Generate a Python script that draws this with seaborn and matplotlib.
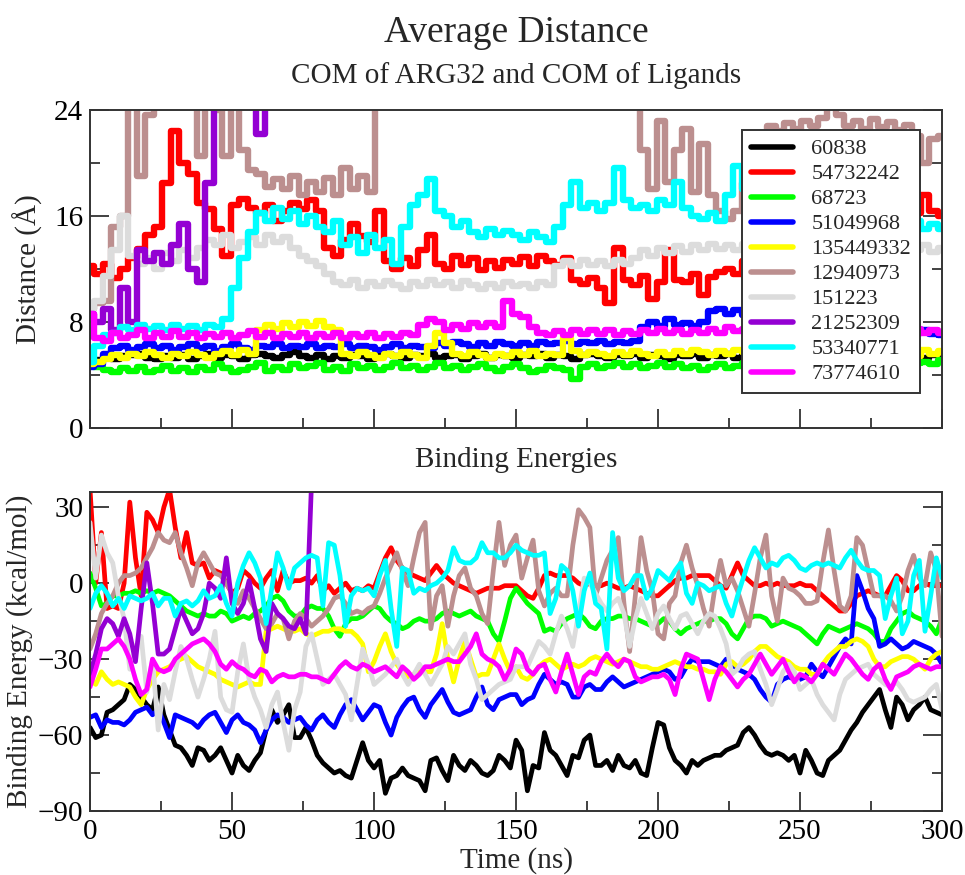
import numpy as np
import matplotlib
matplotlib.use("Agg")
import matplotlib.pyplot as plt
from matplotlib.ticker import MultipleLocator
import seaborn as sns

sns.set_style("ticks")
plt.rcParams['font.family'] = ['Liberation Serif', 'DejaVu Serif']

# ---------------- data ----------------
LIGANDS = ["60838", "54732242", "68723", "51049968", "135449332",
           "12940973", "151223", "21252309", "53340771", "73774610"]
COLORS = ["#000000", "#ff0000", "#00ff00", "#0000ff", "#ffff00",
          "#bc8f8f", "#dcdcdc", "#9400d3", "#00ffff", "#ff00ff"]

T_TOP = np.arange(0, 301, 3)          # ns
T_TOP_SHORT = np.arange(0, 79, 3)     # ns (21252309 only)
T_BOT = np.arange(0, 301, 2)          # ns
T_BOT_SHORT = np.arange(0, 79, 2)     # ns (21252309 only)

# Average distance (Å)
dist_60838 = [4.8,5.1,5.3,5.2,5.4,5.5,5.6,5.3,5.2,5.4,
              5.3,5.5,5.2,5.4,5.6,5.3,5.5,5.4,5.2,5.5,
              5.6,5.4,5.3,5.5,5.7,5.4,5.3,5.5,5.2,5.4,
              5.3,5.5,5.4,5.2,5.5,5.6,5.4,5.3,5.5,5.4,
              5.6,5.3,5.4,5.5,5.2,5.4,5.6,5.3,5.5,5.4,
              5.3,5.5,5.4,5.6,5.3,5.5,5.4,5.2,5.5,5.6,
              5.4,5.3,5.5,5.4,5.6,5.3,5.5,5.4,5.2,5.5,
              5.4,5.6,5.3,5.5,5.4,5.6,5.3,5.5,5.4,5.3,
              5.5,5.4,5.6,5.3,5.5,5.4,5.2,5.5,5.4,5.6,
              5.3,5.5,5.4,5.6,5.3,5.2,5.4,5.1,5.3,5.5,
              5.4]
dist_54732242 = [12.2,11.6,12.4,11.3,12.0,12.8,13.5,14.6,15.2,18.5,
                 22.4,20.0,19.2,17.0,16.5,15.0,13.0,16.8,17.3,16.6,
                 16.2,16.8,15.6,16.4,17.0,16.5,17.2,16.4,13.6,13.0,
                 14.2,15.4,14.5,14.0,16.4,12.6,12.0,12.8,12.2,13.4,
                 14.6,12.4,12.0,13.0,12.3,12.8,11.9,12.6,12.1,12.7,
                 12.4,12.9,12.2,13.0,12.6,12.3,12.8,11.2,10.9,11.3,
                 10.6,9.4,13.6,11.2,10.8,11.5,9.7,11.0,13.4,11.2,
                 11.0,11.6,10.0,11.4,11.8,12.0,11.6,12.6,14.0,13.2,
                 13.0,13.6,13.2,14.0,13.6,14.2,13.8,14.4,14.0,14.6,
                 14.8,14.4,15.0,15.2,14.8,15.4,15.8,16.2,17.6,16.4,
                 16.0]
dist_68723 = [5.0,4.6,4.4,4.2,4.5,4.3,4.6,4.2,4.4,4.7,
              4.3,4.5,4.2,4.6,4.4,4.8,4.5,4.2,4.4,4.6,
              4.9,4.3,4.6,4.4,4.8,4.5,4.7,4.9,4.4,4.6,
              4.3,4.8,4.5,4.7,4.4,4.6,4.9,4.5,4.7,4.4,
              4.6,4.9,4.5,4.7,4.4,4.6,4.8,4.5,4.3,4.6,
              4.8,4.5,4.2,4.4,4.7,4.5,4.4,3.7,4.6,4.8,
              4.5,4.7,4.9,4.6,4.8,4.5,4.7,4.9,4.6,4.8,
              4.5,4.7,4.4,4.6,4.8,4.5,4.7,4.9,4.6,4.8,
              4.5,4.7,4.9,4.6,4.8,4.5,4.7,4.9,4.6,4.8,
              4.5,4.7,4.9,4.6,4.8,4.5,4.7,4.9,5.0,4.8,
              5.1]
dist_51049968 = [4.6,4.8,5.6,6.0,6.2,5.9,6.1,6.3,6.0,6.2,
                 5.9,6.1,6.3,6.0,6.2,5.8,6.1,6.3,6.0,5.9,
                 6.2,6.1,6.3,6.0,6.2,6.1,6.3,6.0,6.2,6.1,
                 6.3,6.0,6.2,6.1,5.9,6.1,6.3,6.0,6.2,6.1,
                 6.0,6.4,6.2,6.5,6.3,6.1,6.4,6.2,6.5,6.3,
                 6.2,6.4,6.2,6.5,6.3,6.4,6.6,6.3,6.5,6.4,
                 6.6,6.3,6.5,6.4,6.6,7.6,8.0,7.7,8.2,7.8,
                 7.9,7.7,8.0,8.8,9.0,8.6,8.9,8.5,8.7,8.4,
                 8.0,8.2,7.8,8.0,7.6,7.8,7.4,7.6,7.3,7.5,
                 7.2,7.4,7.1,7.3,7.0,7.2,7.0,7.2,7.4,7.1,
                 7.0]
dist_135449332 = [4.8,5.0,5.2,5.5,5.3,5.6,5.4,5.7,5.5,5.3,
                  5.6,5.4,5.7,5.5,5.3,5.6,5.8,5.5,5.9,5.6,
                  7.4,7.8,7.5,7.9,7.6,8.0,7.7,8.1,7.6,7.4,
                  5.6,5.4,5.7,5.5,5.3,5.6,5.4,5.7,5.5,5.3,
                  6.2,7.2,6.4,5.6,5.4,5.7,5.5,5.3,5.6,5.4,
                  5.7,5.5,5.8,5.4,5.6,5.5,6.8,5.8,5.5,5.7,
                  5.6,5.4,5.7,5.5,5.8,5.6,5.4,5.7,5.5,5.8,
                  5.6,5.9,5.7,5.5,5.8,5.6,5.9,5.7,5.5,5.8,
                  5.6,5.9,5.7,5.5,5.8,5.6,5.9,5.7,5.5,5.8,
                  5.6,5.9,5.7,5.5,5.8,5.6,5.9,5.4,5.9,5.6,
                  5.8]
dist_12940973 = [9.0,9.4,9.6,15.2,16.0,26.0,19.0,23.6,27.0,27.0,
                 27.0,27.0,27.0,20.5,26.0,24.0,20.5,26.0,21.0,19.5,
                 19.2,18.2,18.8,18.0,19.0,17.6,18.6,17.8,18.9,17.6,
                 19.6,18.0,19.0,17.8,27.0,27.0,27.0,27.0,27.0,27.0,
                 27.0,27.0,27.0,27.0,27.0,27.0,27.0,27.0,27.0,27.0,
                 27.0,27.0,27.0,27.0,27.0,27.0,27.0,27.0,27.0,27.0,
                 27.0,27.0,27.0,27.0,27.0,21.0,18.0,23.2,18.6,21.0,
                 22.6,17.8,21.4,17.6,16.4,15.8,16.4,18.5,20.5,22.0,
                 22.8,22.4,23.0,22.6,23.2,22.8,23.4,24.2,23.6,22.8,
                 23.2,22.6,23.3,22.7,23.1,22.5,22.9,22.0,20.0,21.8,
                 22.0]
dist_151223 = [9.0,9.6,11.5,13.4,16.0,13.0,12.4,12.8,12.0,13.2,
               12.6,13.4,12.8,13.6,14.2,13.8,14.6,13.6,14.0,14.4,
               13.8,14.6,14.0,14.4,13.6,13.0,12.6,12.2,11.6,11.0,
               10.8,11.2,10.6,11.0,10.7,11.1,10.8,10.5,11.0,10.7,
               11.2,10.8,11.0,10.6,11.1,10.8,10.5,10.9,10.6,11.0,
               10.7,10.9,10.6,11.0,10.8,12.2,12.6,12.2,12.7,12.3,
               12.6,12.2,12.7,12.4,12.8,13.4,13.0,13.6,13.2,13.7,
               13.3,13.8,13.4,13.9,13.5,13.8,13.4,13.9,13.5,13.9,
               13.5,13.9,13.6,14.0,13.6,13.9,13.5,13.8,13.4,13.8,
               13.5,13.9,13.6,13.2,13.6,13.3,13.7,13.4,13.8,13.3,
               13.6]
dist_21252309 = [8.6,8.0,9.0,7.4,10.6,8.0,13.4,12.6,13.2,12.4,
                 13.8,15.4,12.0,11.0,18.5,26.0,28.0,28.0,28.0,26.0,
                 22.2,25.0,28.0,28.0,28.0,28.0,28.0]
dist_53340771 = [5.0,6.2,7.0,7.2,7.6,7.4,7.8,7.5,7.7,7.4,
                 7.8,7.5,7.7,7.4,7.8,7.6,8.2,10.6,12.8,14.8,
                 16.2,15.6,16.6,15.8,16.4,15.4,16.0,15.2,14.8,15.6,
                 13.8,14.4,13.2,14.6,13.6,14.2,12.4,15.2,16.8,17.6,
                 18.8,16.4,16.0,15.2,15.6,14.8,14.4,15.0,14.6,14.9,
                 14.6,14.2,14.8,14.4,14.0,15.2,16.8,18.6,16.6,17.0,
                 16.4,17.0,19.6,17.2,16.6,16.8,16.4,17.2,16.8,18.6,
                 16.6,16.0,15.8,16.2,15.6,17.6,19.8,18.0,17.4,17.0,
                 16.8,17.2,16.6,17.0,16.4,16.8,16.2,16.6,16.0,16.4,
                 15.8,16.2,15.6,16.0,15.4,15.8,15.2,15.6,15.0,15.4,
                 15.0]
dist_73774610 = [8.6,6.8,6.6,7.2,6.8,7.0,7.4,6.8,7.2,6.9,
                 7.3,6.9,7.2,6.8,7.1,6.9,7.2,6.8,7.0,7.3,
                 6.9,7.2,6.8,7.1,6.9,7.2,6.8,7.1,6.9,7.2,
                 6.8,7.1,6.9,7.2,6.8,7.1,6.9,7.2,7.0,7.8,
                 8.2,8.0,7.4,7.8,7.5,7.9,7.6,7.9,7.6,9.6,
                 8.6,8.4,7.6,7.2,7.0,7.3,7.0,7.4,7.1,7.4,
                 7.1,7.4,7.0,7.3,7.1,7.4,7.2,7.5,7.2,7.4,
                 7.1,7.4,7.2,7.5,7.2,7.6,7.3,7.5,7.2,7.4,
                 7.1,7.4,7.2,7.5,7.2,7.4,7.1,7.4,7.2,7.5,
                 7.2,7.4,7.1,7.4,7.2,7.5,7.2,7.5,7.2,7.4,
                 7.2]

# Binding energy (kcal/mol)
be_60838 = [-57,-61,-60,-51,-50,-48,-46,-40,-42,-45,
            -48,-50,-41,-52,-58,-64,-65,-68,-72,-65,
            -66,-70,-68,-65,-70,-75,-68,-72,-74,-70,
            -67,-58,-50,-55,-52,-48,-61,-61,-57,-62,
            -68,-71,-73,-75,-74,-76,-77,-70,-63,-70,
            -73,-70,-83,-77,-76,-73,-76,-77,-78,-82,
            -70,-69,-74,-78,-68,-72,-74,-70,-72,-75,
            -76,-74,-68,-70,-73,-62,-66,-82,-72,-73,
            -59,-66,-68,-72,-76,-68,-69,-62,-60,-72,
            -72,-70,-74,-68,-72,-73,-70,-75,-76,-65,
            -55,-56,-65,-70,-72,-75,-70,-72,-70,-69,
            -68,-68,-66,-65,-64,-59,-57,-60,-64,-67,
            -68,-67,-68,-70,-68,-75,-66,-70,-75,-76,
            -70,-68,-66,-62,-58,-55,-51,-48,-45,-42,
            -50,-57,-45,-48,-54,-50,-48,-45,-50,-51,
            -52]
be_54732242 = [37,0,20,-10,-9,-10,0,32,10,-5,
               28,25,20,30,37,22,10,20,8,7,
               8,2,5,4,0,-4,-2,5,3,0,
               -2,2,5,-3,5,0,1,1,2,0,
               3,-3,-1,-4,-2,0,-3,-2,-3,-1,
               -2,4,10,14,9,6,4,3,2,1,
               4,7,4,2,0,-1,-2,-3,-4,-3,
               -2,-2,-2,-1,-1,-1,-3,-5,-6,-2,
               3,4,3,3,3,2,0,-1,0,-1,
               -1,0,-1,-2,-2,-1,-2,-3,-4,-5,
               -5,-3,-1,1,2,2,3,3,3,3,
               1,-1,-2,3,8,3,1,-1,-1,0,
               -1,0,-1,-1,-1,0,-1,-1,-3,-5,
               -7,-9,-11,-11,-8,-5,-4,-3,-4,-5,
               -5,-1,3,1,-3,-3,-1,0,-1,-1,
               -1]
be_68723 = [4,-2,-9,-8,-5,-5,-4,-4,-3,-4,
            -3,-4,-3,-4,-5,-7,-9,-11,-12,-13,
            -12,-13,-13,-11,-12,-15,-14,-13,-14,-12,
            -11,-9,-6,-5,-7,-11,-13,-13,-10,-9,
            -10,-10,-13,-18,-21,-16,-14,-14,-13,-11,
            -9,-10,-13,-15,-16,-18,-17,-15,-14,-15,
            -15,-14,-12,-11,-12,-13,-12,-11,-13,-14,
            -15,-20,-23,-15,-6,-2,-5,-8,-10,-12,
            -19,-18,-19,-16,-14,-13,-12,-14,-17,-18,
            -15,-14,-14,-13,-13,-14,-14,-15,-16,-17,
            -16,-14,-15,-18,-20,-18,-17,-16,-15,-15,
            -14,-14,-16,-20,-22,-18,-14,-13,-13,-14,
            -17,-16,-15,-16,-17,-18,-20,-22,-24,-20,
            -17,-18,-19,-18,-17,-16,-17,-18,-20,-23,
            -23,-18,-15,-12,-11,-13,-14,-15,-17,-20,
            -14]
be_51049968 = [-53,-52,-57,-54,-55,-55,-56,-54,-51,-50,
               -49,-52,-50,-55,-61,-52,-53,-54,-55,-57,
               -54,-52,-51,-55,-59,-54,-52,-55,-56,-58,
               -63,-58,-54,-52,-53,-55,-54,-53,-56,-58,
               -54,-52,-55,-57,-52,-48,-46,-50,-54,-51,
               -48,-49,-55,-60,-53,-49,-46,-45,-50,-53,
               -48,-45,-42,-47,-51,-52,-51,-50,-45,-41,
               -48,-50,-46,-45,-44,-44,-48,-46,-45,-40,
               -36,-38,-40,-39,-40,-45,-45,-41,-40,-42,
               -42,-39,-37,-39,-41,-40,-39,-38,-37,-36,
               -35,-34,-35,-38,-37,-33,-30,-31,-31,-31,
               -32,-33,-30,-32,-34,-35,-36,-38,-42,-45,
               -47,-40,-38,-37,-38,-38,-37,-32,-35,-37,
               -33,-29,-25,-22,-24,3,-3,-10,-14,-25,
               -24,-22,-24,-26,-25,-23,-24,-25,-26,-28,
               -32]
be_135449332 = [-38,-40,-35,-38,-40,-39,-40,-41,-45,-48,
                -42,-38,-35,-34,-33,-31,-30,-29,-31,-33,
                -34,-35,-36,-38,-39,-40,-41,-40,-39,-40,
                -40,-19,-18,-17,-18,-19,-19,-18,-20,-21,
                -20,-19,-19,-18,-18,-19,-19,-21,-24,-35,
                -31,-25,-20,-27,-32,-35,-37,-36,-35,-35,
                -35,-28,-16,-30,-39,-30,-23,-30,-37,-36,
                -36,-30,-24,-30,-35,-33,-37,-38,-36,-33,
                -31,-30,-32,-34,-33,-32,-33,-32,-30,-29,
                -30,-31,-32,-31,-30,-31,-32,-33,-33,-34,
                -34,-33,-32,-31,-32,-33,-33,-34,-34,-35,
                -35,-36,-32,-31,-33,-32,-30,-27,-25,-25,
                -27,-29,-30,-31,-33,-34,-34,-36,-36,-32,
                -29,-27,-25,-25,-23,-22,-23,-25,-30,-33,
                -33,-31,-30,-29,-29,-30,-32,-34,-30,-28,
                -27]
be_12940973 = [-26,-20,-12,-8,-5,0,3,3,4,6,
               10,14,20,17,16,20,12,6,-1,8,
               12,8,4,3,0,-4,-8,-3,-6,-10,
               -14,-18,-16,-12,-14,-22,-15,-12,-14,-17,
               -15,-13,-10,-6,-5,-8,-12,-11,-12,-10,
               -9,-4,2,7,12,5,-1,10,20,24,
               -18,-5,-1,-17,-5,3,6,-2,-5,-12,
               -16,5,24,7,15,19,2,10,17,-3,
               -9,-4,-2,-5,-5,15,29,26,22,-5,
               2,9,13,18,-8,-27,-5,18,5,-3,
               -20,-22,-8,-5,8,15,6,-1,-10,-17,
               -2,9,-1,2,-3,-10,-17,-4,10,19,
               -5,-15,2,-2,-3,-5,-8,-8,-7,8,
               21,5,-9,-11,-5,18,15,5,-5,-5,
               -5,-7,-11,-5,5,11,2,-1,12,5,
               -21]
be_151223 = [24,2,19,12,8,-5,-14,-34,-25,-21,
             -43,-30,-58,-40,-46,-35,-25,-30,-38,-45,
             -38,-30,-19,-45,-50,-51,-35,-24,-38,-45,
             -50,-57,-48,-43,-55,-66,-50,-43,-25,-20,
             -30,-40,-38,-36,-40,-44,-54,-40,-26,-32,
             -40,-38,-36,-33,-30,-36,-40,-36,-32,-36,
             -40,-36,-32,-25,-28,-24,-20,-32,-38,-46,
             -44,-42,-40,-39,-38,-33,-33,-33,-28,-23,
             -25,-28,-20,-13,-18,-25,-12,2,0,-4,
             -8,-11,-8,-6,-12,-25,-14,-6,-12,-18,
             -12,-9,-14,-18,-13,-12,-16,-20,-15,-12,
             -13,-18,-24,-36,-34,-30,-28,-27,-34,-40,
             -48,-42,-35,-32,-35,-42,-40,-38,-44,-48,
             -51,-54,-44,-38,-36,-34,-33,-32,-36,-38,
             -40,-41,-39,-42,-46,-47,-46,-45,-42,-40,
             -50]
be_21252309 = [-36,-28,-18,-14,-16,-21,-14,-20,-31,-10,
               8,-8,-28,-28,-26,-18,-10,-15,-20,-18,
               -12,0,-2,-6,10,-8,-12,-8,1,-10,
               -22,-27,-8,-12,-14,-17,-18,-14,-20,40]
be_53340771 = [-10,-4,-1,-4,-9,-6,-10,-5,-6,-7,
               -6,-4,-9,-6,-6,-13,-8,-7,-9,-7,
               -3,-6,-5,-1,-8,-13,0,7,12,8,
               2,-16,-2,12,6,-2,6,8,10,11,
               10,-9,16,15,3,-17,-5,-2,-3,-2,
               -5,3,9,-10,-25,6,5,-4,-2,-3,
               -1,0,2,5,14,9,8,8,10,16,
               12,12,10,10,12,15,13,12,11,11,
               12,-12,-6,7,5,-3,-17,-3,4,-8,
               -10,-26,20,2,-3,-1,3,3,-6,-2,
               5,3,1,5,8,-4,-8,0,-1,-3,
               -2,-1,-8,-13,-5,2,9,14,10,6,
               8,7,10,11,9,6,5,7,8,7,
               8,7,6,10,13,9,6,5,5,3,
               -14,-5,2,-20,-15,3,9,-19,-5,10,
               2]
be_73774610 = [-41,-34,-26,-26,-24,-22,-25,-30,-38,-44,
               -42,-30,-34,-35,-34,-30,-28,-26,-24,-23,
               -22,-24,-27,-32,-34,-31,-33,-34,-36,-37,
               -34,-35,-39,-37,-36,-37,-37,-36,-36,-37,
               -37,-38,-39,-36,-33,-31,-33,-34,-32,-33,
               -35,-34,-33,-35,-37,-33,-35,-38,-36,-33,
               -33,-32,-31,-30,-31,-31,-28,-25,-20,-28,
               -30,-31,-33,-38,-34,-26,-28,-34,-36,-33,
               -32,-38,-43,-35,-28,-36,-44,-37,-35,-36,
               -31,-28,-31,-33,-30,-31,-37,-39,-38,-37,
               -37,-36,-38,-44,-34,-28,-29,-30,-38,-46,
               -38,-33,-35,-38,-41,-38,-36,-32,-28,-32,
               -36,-33,-30,-35,-39,-36,-37,-39,-36,-32,
               -34,-36,-32,-28,-30,-33,-36,-38,-34,-32,
               -38,-42,-37,-36,-35,-33,-32,-33,-34,-33,
               -33]

DIST = [dist_60838, dist_54732242, dist_68723, dist_51049968, dist_135449332,
        dist_12940973, dist_151223, dist_21252309, dist_53340771, dist_73774610]
BE = [be_60838, be_54732242, be_68723, be_51049968, be_135449332,
      be_12940973, be_151223, be_21252309, be_53340771, be_73774610]

# ---------------- figure ----------------
fig = plt.figure(figsize=(9.65, 8.75), dpi=100)
ax1 = fig.add_axes([0.0933, 0.5109, 0.8829, 0.3634])
ax2 = fig.add_axes([0.0933, 0.0731, 0.8829, 0.3646])

for name, col, y in zip(LIGANDS, COLORS, DIST):
    t = T_TOP if len(y) == len(T_TOP) else T_TOP_SHORT
    sns.lineplot(x=t, y=y, ax=ax1, color=col, lw=4.6, label=name,
                 drawstyle='steps-mid', legend=False, sort=False)
for name, col, y in zip(LIGANDS, COLORS, BE):
    t = T_BOT if len(y) == len(T_BOT) else T_BOT_SHORT
    sns.lineplot(x=t, y=y, ax=ax2, color=col, lw=3.4, legend=False, sort=False)

# axes styling (Grace look)
for ax in (ax1, ax2):
    ax.set_xlim(0, 300)
    ax.xaxis.set_major_locator(MultipleLocator(50))
    ax.xaxis.set_minor_locator(MultipleLocator(25))
    for s in ax.spines.values():
        s.set_visible(True)
        s.set_linewidth(1.4)
        s.set_color('#333333')
    ax.tick_params(which='both', direction='in', left=True, right=True,
                   bottom=True, top=False, width=1.3, colors='#333333',
                   labelcolor='black', labelsize=21)
    ax.tick_params(which='major', length=14)
    ax.tick_params(which='minor', length=7)
    ax.tick_params(axis='y', pad=5)
    ax.tick_params(axis='x', pad=6)

ax1.set_ylim(0, 24)
ax1.yaxis.set_major_locator(MultipleLocator(8))
ax1.yaxis.set_minor_locator(MultipleLocator(4))
ax1.tick_params(axis='x', labelbottom=False)
ax1.set_xlabel("")
ax1.set_ylabel("Distance (Å)", fontsize=21)
ax1.yaxis.set_label_coords(-0.055, 0.5)

ax2.set_ylim(-90, 36)
ax2.yaxis.set_major_locator(MultipleLocator(30))
ax2.yaxis.set_minor_locator(MultipleLocator(15))
ax2.set_ylabel("Binding Energy (kcal/mol)", fontsize=21)
ax2.yaxis.set_label_coords(-0.067, 0.5)
ax2.set_xlabel("Time (ns)", fontsize=21)
ax2.xaxis.set_label_coords(0.5, -0.112)

leg = ax1.legend(loc='upper right', bbox_to_anchor=(0.974, 0.937),
                 borderaxespad=0, fontsize=16, frameon=True, fancybox=False,
                 framealpha=1, edgecolor='#333333', handlelength=1.9,
                 handletextpad=0.8, labelspacing=0.2, borderpad=0.4)
leg.get_frame().set_linewidth(1.4)
for h in leg.get_lines():
    h.set_linewidth(4)

fig.text(0.5347, 0.963, "Average Distance", ha='center', va='center', fontsize=27)
fig.text(0.5347, 0.914, "COM of ARG32 and COM of Ligands", ha='center', va='center', fontsize=21)
fig.text(0.5347, 0.474, "Binding Energies", ha='center', va='center', fontsize=21)

fig.savefig("out.png", dpi=100)
